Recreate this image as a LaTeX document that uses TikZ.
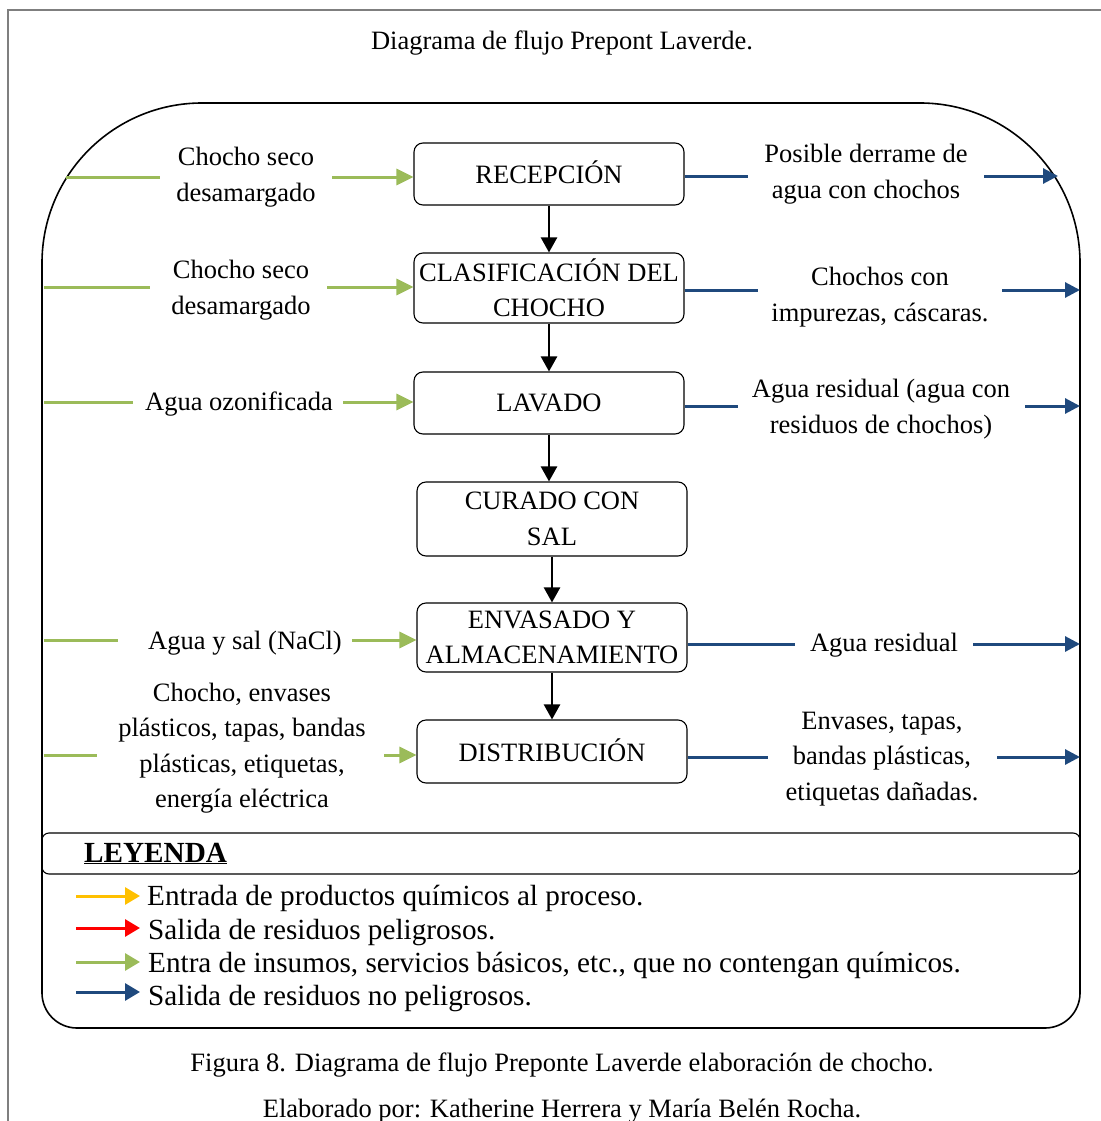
\documentclass[tikz,border=0pt]{standalone}
\usepackage{fontspec}
\setmainfont{Liberation Serif}
\usetikzlibrary{arrows.meta,calc}
\definecolor{ingreen}{HTML}{9BBB59}
\definecolor{outblue}{HTML}{1F497D}
\definecolor{chemyellow}{HTML}{FFC000}
\definecolor{hazred}{HTML}{FF0000}
\definecolor{framegray}{HTML}{7F7F7F}
\begin{document}
\begin{tikzpicture}[x=1pt,y=-1pt,
  txt/.style={font=\fontsize{26.5}{35.5}\selectfont, align=center, inner sep=0pt},
  legtxt/.style={font=\fontsize{29.2}{34}\selectfont, anchor=base west, inner sep=0pt},
  stage/.style={draw, line width=1.1pt, rounded corners=9pt, minimum width=270pt,
    font=\fontsize{26.5}{35.5}\selectfont, align=center, inner sep=2pt},
  flow/.style={-{Triangle[length=15pt,width=16pt]}, line width=2.4pt},
  gin/.style={draw=ingreen, line width=3pt},
  ginarrow/.style={gin, -{Triangle[length=17pt,width=16pt]}},
  bout/.style={draw=outblue, line width=3pt},
  boutarrow/.style={bout, -{Triangle[length=15pt,width=15pt]}},
  legarrow/.style={line width=3pt, -{Triangle[length=15pt,width=17pt]}},
]
\useasboundingbox (0,0) rectangle (1100,1121);

% page frame
\draw[framegray, line width=1.3pt] (8,1130) -- (8,10) -- (1110,10);

% title and captions
\node[txt, anchor=base] (title) at (562,50) {Diagrama de flujo Prepont Laverde.};
\node[txt, anchor=base] (cap) at (562,1071) {Figura 8. Diagrama de flujo Preponte Laverde elaboración de chocho.};
\node[txt, anchor=base] (author) at (562,1117) {Elaborado por: Katherine Herrera y María Belén Rocha.};

% outer rounded frame
\draw[line width=1.6pt] (42,993) -- (42,263)
  arc[start angle=180, end angle=270, radius=160] -- (920,103)
  arc[start angle=270, end angle=360, radius=160] -- (1080,993)
  arc[start angle=0, end angle=90, radius=35] -- (77,1028)
  arc[start angle=90, end angle=180, radius=35] -- cycle;

% process stages
\node[stage, minimum height=62pt] (r1) at (549,174) {\raisebox{3pt}{RECEPCIÓN}};
\node[stage, minimum height=70pt] (r2) at (549,288) {CLASIFICACIÓN DEL\\CHOCHO};
\node[stage, minimum height=62pt] (r3) at (549,403) {LAVADO};
\node[stage, minimum height=74pt] (r4) at (552,519) {CURADO CON\\SAL};
\node[stage, minimum height=69pt] (r5) at (552,637.5) {\raisebox{-3pt}{ENVASADO Y}\\\raisebox{-3pt}{ALMACENAMIENTO}};
\node[stage, minimum height=63pt] (r6) at (552,751.5) {\raisebox{2pt}{DISTRIBUCIÓN}};

\draw[flow] (r1.south) -- (r1.south |- r2.north);
\draw[flow] (r2.south) -- (r2.south |- r3.north);
\draw[flow] (r3.south) -- (r3.south |- r4.north);
\draw[flow] (r4.south) -- (r4.south |- r5.north);
\draw[flow] (r5.south) -- (r5.south |- r6.north);

% inputs (left)
\node[txt] (in1) at (246,177) {Chocho seco\\desamargado};
\node[txt] (in2) at (241,290) {Chocho seco\\desamargado};
\node[txt] (in3) at (239,404) {Agua ozonificada};
\node[txt] (in5) at (245,643) {Agua y sal (NaCl)};
\node[txt] (in6) at (242,748) {Chocho, envases\\plásticos, tapas, bandas\\plásticas, etiquetas,\\energía eléctrica};

\coordinate (a1) at (66,177);  \coordinate (b1) at (160,177); \coordinate (c1) at (332,177);
\coordinate (a2) at (44,287);  \coordinate (b2) at (150,287); \coordinate (c2) at (327,287);
\coordinate (a3) at (44,402);  \coordinate (b3) at (133,402); \coordinate (c3) at (343,402);
\coordinate (a5) at (44,640);  \coordinate (b5) at (118,640); \coordinate (c5) at (352,640);
\coordinate (a6) at (44,755);  \coordinate (b6) at (97,755);  \coordinate (c6) at (384,755);

\draw[gin] (a1) -- (b1); \draw[ginarrow] (c1) -- (c1 -| r1.west);
\draw[gin] (a2) -- (b2); \draw[ginarrow] (c2) -- (c2 -| r2.west);
\draw[gin] (a3) -- (b3); \draw[ginarrow] (c3) -- (c3 -| r3.west);
\draw[gin] (a5) -- (b5); \draw[ginarrow] (c5) -- (c5 -| r5.west);
\draw[gin] (a6) -- (b6); \draw[ginarrow] (c6) -- (c6 -| r6.west);

% outputs (right)
\node[txt] (out1) at (866,174) {Posible derrame de\\agua con chochos};
\node[txt] (out2) at (880,297) {Chochos con\\impurezas, cáscaras.};
\node[txt] (out3) at (881,409) {Agua residual (agua con\\residuos de chochos)};
\node[txt] (out5) at (884,645) {Agua residual};
\node[txt] (out6) at (882,759) {Envases, tapas,\\bandas plásticas,\\etiquetas dañadas.};

\coordinate (p1) at (748,176);  \coordinate (q1) at (984,176);  \coordinate (s1) at (1058,176);
\coordinate (p2) at (758,290);  \coordinate (q2) at (1002,290); \coordinate (s2) at (1080,290);
\coordinate (p3) at (738,406);  \coordinate (q3) at (1025,406); \coordinate (s3) at (1080,406);
\coordinate (p5) at (795,644);  \coordinate (q5) at (973,644);  \coordinate (s5) at (1080,644);
\coordinate (p6) at (768,757);  \coordinate (q6) at (997,757);  \coordinate (s6) at (1080,757);

\draw[bout] (p1 -| r1.east) -- (p1); \draw[boutarrow] (q1) -- (s1);
\draw[bout] (p2 -| r2.east) -- (p2); \draw[boutarrow] (q2) -- (s2);
\draw[bout] (p3 -| r3.east) -- (p3); \draw[boutarrow] (q3) -- (s3);
\draw[bout] (p5 -| r5.east) -- (p5); \draw[boutarrow] (q5) -- (s5);
\draw[bout] (p6 -| r6.east) -- (p6); \draw[boutarrow] (q6) -- (s6);

% legend
\draw[line width=1.1pt, rounded corners=7pt] (42,833) rectangle (1080,874);
\node[legtxt, font=\fontsize{29.2}{34}\selectfont\bfseries] (leg) at (84,862) {\underline{LEYENDA}};

\coordinate (ly1) at (76,896);  \coordinate (ly2) at (76,928);
\coordinate (ly3) at (76,962);  \coordinate (ly4) at (76,992);
\draw[legarrow, chemyellow] (ly1) -- ++(64,0);
\draw[legarrow, hazred] (ly2) -- ++(64,0);
\draw[legarrow, ingreen] (ly3) -- ++(64,0);
\draw[legarrow, outblue] (ly4) -- ++(64,0);
\node[legtxt] (l1) at (147,905) {Entrada de productos químicos al proceso.};
\node[legtxt] (l2) at (148,939) {Salida de residuos peligrosos.};
\node[legtxt] (l3) at (148,972) {Entra de insumos, servicios básicos, etc., que no contengan químicos.};
\node[legtxt] (l4) at (148,1005) {Salida de residuos no peligrosos.};
\end{tikzpicture}
\end{document}
